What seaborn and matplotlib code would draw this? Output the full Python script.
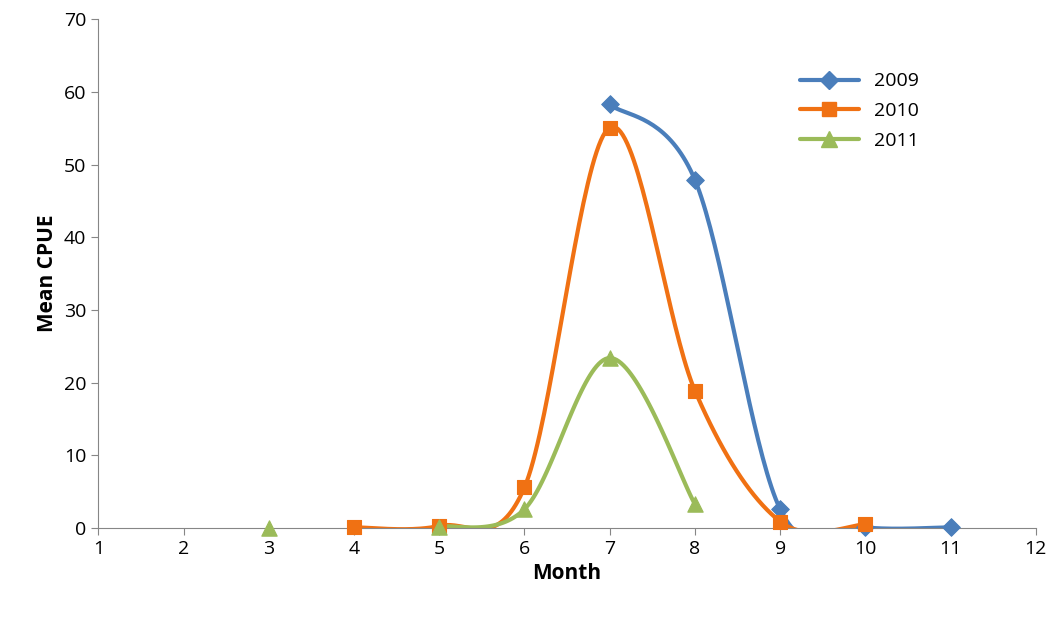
import numpy as np
import pandas as pd
import matplotlib
matplotlib.use("Agg")
import matplotlib.pyplot as plt
from matplotlib.lines import Line2D
import seaborn as sns

sns.set_style("white")
plt.rcParams['font.family'] = ['Open Sans', 'DejaVu Sans']
plt.rcParams['text.color'] = 'black'
plt.rcParams['axes.labelcolor'] = 'black'

# data
months_2009 = [7, 8, 9, 10, 11]
cpue_2009 = [58.3, 47.9, 2.6, 0.1, 0.1]
months_2010 = [4, 5, 6, 7, 8, 9, 10]
cpue_2010 = [0.1, 0.3, 5.6, 55.1, 18.9, 0.9, 0.5]
months_2011 = [3, 5, 6, 7, 8]
cpue_2011 = [0.0, 0.2, 2.6, 23.4, 3.3]

series = [("2009", months_2009, cpue_2009, "#4a7ebb", "D", 9),
          ("2010", months_2010, cpue_2010, "#f07113", "s", 10),
          ("2011", months_2011, cpue_2011, "#9bbb59", "^", 11)]


def excel_smooth(x, y, n=40):
    # Excel-like smoothing: cubic Bezier with Catmull-Rom control points
    x = np.asarray(x, float); y = np.asarray(y, float)
    px, py = [], []
    for i in range(len(x) - 1):
        x0, y0 = (x[i-1], y[i-1]) if i > 0 else (x[i], y[i])
        x3, y3 = (x[i+2], y[i+2]) if i + 2 < len(x) else (x[i+1], y[i+1])
        c1 = (x[i] + (x[i+1] - x0) / 6, y[i] + (y[i+1] - y0) / 6)
        c2 = (x[i+1] - (x3 - x[i]) / 6, y[i+1] - (y3 - y[i]) / 6)
        t = np.linspace(0, 1, n)
        px.append((1-t)**3*x[i] + 3*(1-t)**2*t*c1[0] + 3*(1-t)*t**2*c2[0] + t**3*x[i+1])
        py.append((1-t)**3*y[i] + 3*(1-t)**2*t*c1[1] + 3*(1-t)*t**2*c2[1] + t**3*y[i+1])
    return np.concatenate(px), np.concatenate(py)


def runs(x, y):
    # split into consecutive-month segments
    segs, cur = [], [0]
    for i in range(1, len(x)):
        if x[i] - x[i-1] == 1:
            cur.append(i)
        else:
            segs.append(cur); cur = [i]
    segs.append(cur)
    return [([x[j] for j in s], [y[j] for j in s]) for s in segs]


fig = plt.figure(figsize=(10.57, 6.22), dpi=100)
ax = fig.add_axes([0.093, 0.151, 0.887, 0.818])

handles = []
for name, mx, my, col, mk, ms in series:
    for sx, sy in runs(mx, my):
        if len(sx) > 1:
            cx, cy = excel_smooth(sx, sy)
            ax.plot(cx, cy, color=col, lw=3, solid_capstyle='round', zorder=2)
    df = pd.DataFrame({"Month": mx, "CPUE": my})
    sns.scatterplot(data=df, x="Month", y="CPUE", ax=ax, marker=mk, s=ms**2,
                    color=col, edgecolor=col, zorder=3, legend=False, clip_on=False)
    handles.append(Line2D([], [], color=col, lw=3, marker=mk, markersize=ms, label=name))

ax.set_xlim(1, 12)
ax.set_ylim(0, 70)
ax.set_xticks(range(1, 13))
ax.set_yticks(range(0, 71, 10))
ax.tick_params(axis='both', labelsize=14, length=5, direction='out', color='#868686',
               labelcolor='black', bottom=True, left=True)
for s in ['top', 'right']:
    ax.spines[s].set_visible(False)
for s in ['left', 'bottom']:
    ax.spines[s].set_color('#868686')
ax.set_xlabel("Month", fontsize=15, fontweight='bold')
ax.set_ylabel("Mean CPUE", fontsize=15, fontweight='bold')
ax.legend(handles=handles, loc='upper left', bbox_to_anchor=(0.73, 0.93), frameon=False,
          fontsize=14, handlelength=3, labelspacing=0.6)

fig.savefig("out.png", dpi=100)
